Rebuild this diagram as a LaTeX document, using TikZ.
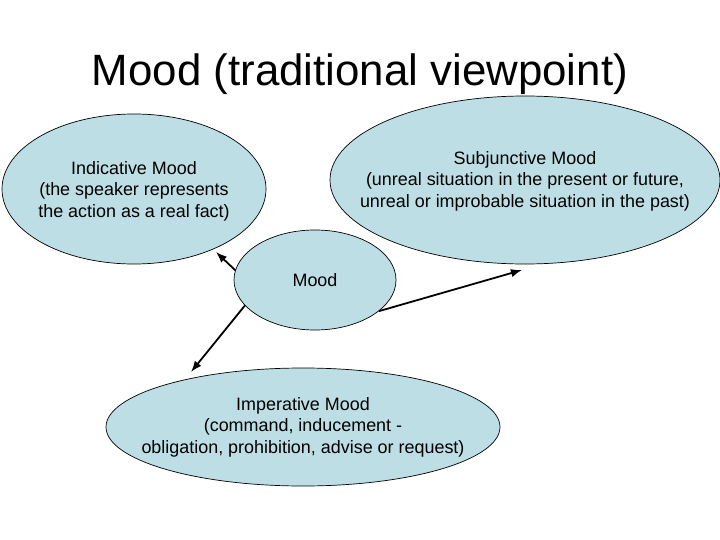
\documentclass[tikz,border=0pt]{standalone}
\usepackage{fontspec}
\setmainfont{Liberation Sans}
\usepackage{xcolor}
\usetikzlibrary{arrows.meta,shapes.geometric}

\definecolor{moodfill}{RGB}{189,222,228}

\begin{document}
\begin{tikzpicture}[x=1bp,y=-1bp,>=Latex,
mood/.style={draw,line width=0.7pt,ellipse,fill=moodfill,inner sep=0pt},
moodtext/.style={align=center,inner sep=0pt,font=\fontsize{18}{21.5}\selectfont},
link/.style={->,line width=1.8pt}]
\useasboundingbox (0,0) rectangle (720,540);
\node[font=\fontsize{44}{50}\selectfont,anchor=base] (title) at (360,86) {Mood (traditional viewpoint)};
% ellipses
\node[mood,minimum width=264bp,minimum height=150bp] (ind) at (134,189) {};
\node[mood,minimum width=390bp,minimum height=168bp] (subj) at (525,180) {};
\node[mood,minimum width=394bp,minimum height=118bp] (imp) at (303,427) {};
\node[mood,minimum width=162bp,minimum height=100bp] (mid) at (315,280) {};
% texts
\node[moodtext] (indText) at ([yshift=-2bp]ind) {Indicative Mood\\(the speaker represents\\the action as a real fact)};
\node[moodtext] (subjText) at ([yshift=-1bp]subj) {Subjunctive Mood\\(unreal situation in the present or future,\\unreal or improbable situation in the past)};
\node[moodtext] (impText) at (imp) {Imperative Mood\\(command, inducement -\\obligation, prohibition, advise or request)};
\node[moodtext] (midText) at (mid) {Mood};
% arrow ends
\coordinate (indTip) at (216,252);
\coordinate (subjTip) at (522,270);
\coordinate (impTip) at (191,372);
\draw[link] (mid.173)--(indTip);
\draw[link] (mid.334)--(subjTip);
\draw[link] (mid.200)--(impTip);
\end{tikzpicture}
\end{document}
